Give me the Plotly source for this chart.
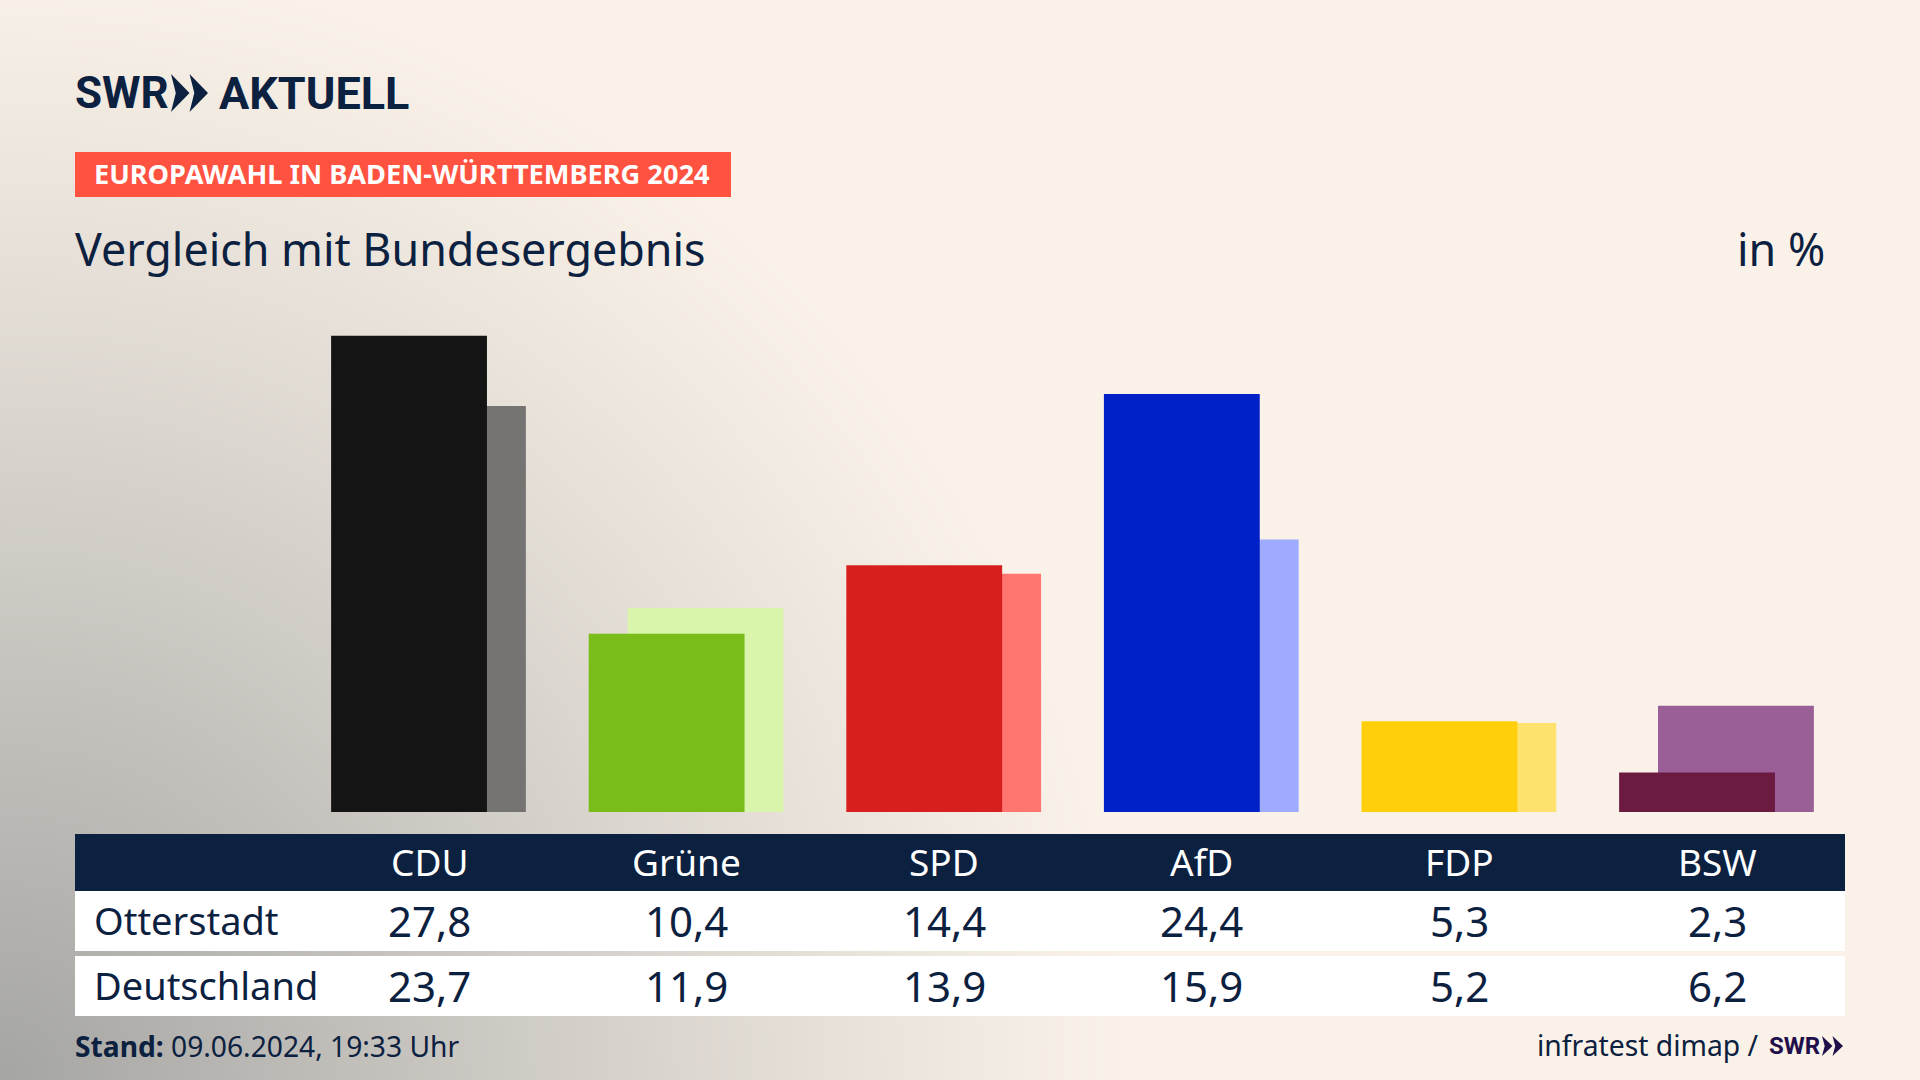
import base64, struct, zlib
import numpy as np
import plotly.graph_objects as go

parties = ["CDU", "Grüne", "SPD", "AfD", "FDP", "BSW"]
otterstadt = [27.8, 10.4, 14.4, 24.4, 5.3, 2.3]
deutschland = [23.7, 11.9, 13.9, 15.9, 5.2, 6.2]
row_names = ["Otterstadt", "Deutschland"]
front_colors = ["#141414", "#7ABD1B", "#D81F1F", "#0020C8", "#FFCF0B", "#6B1A40"]
back_colors = ["#757473", "#D8F5AB", "#FF7570", "#9EABFF", "#FFE26E", "#9B5F97"]

W, H = 1920, 1080
NAVY = "#0C2040"
FONT = "Noto Sans"
LOGO = "Roboto"

def px(x): return x / W
def py(y): return 1 - y / H

def png_uri(rgb):
    h, w, _ = rgb.shape
    raw = b"".join(b"\x00" + rgb[i].tobytes() for i in range(h))
    def chunk(t, d):
        return struct.pack(">I", len(d)) + t + d + struct.pack(">I", zlib.crc32(t + d) & 0xffffffff)
    data = (b"\x89PNG\r\n\x1a\n" + chunk(b"IHDR", struct.pack(">IIBBBBB", w, h, 8, 2, 0, 0, 0))
            + chunk(b"IDAT", zlib.compress(raw, 9)) + chunk(b"IEND", b""))
    return "data:image/png;base64," + base64.b64encode(data).decode()

# soft radial background from the bottom-left corner
yy, xx = np.mgrid[0:H // 2, 0:W // 2]
d = np.hypot(xx * 2 / 1130, (H - yy * 2) / 1130).clip(0, 1)
t = ((1 - d) ** 1.1)[..., None]
base = np.array([250, 242, 232], float)
dark = np.array([165, 165, 163], float)
bg = np.round(base * (1 - t) + dark * t).astype(np.uint8)

def rect(x0, y0, x1, y1, color):
    return dict(type="rect", xref="paper", yref="paper", x0=px(x0), x1=px(x1), y0=py(y1), y1=py(y0),
                fillcolor=color, line_width=0, layer="below")

def chevrons(x, top, bottom, width, color):
    mid = (top + bottom) / 2
    out = []
    for k in range(2):
        x0 = x + k * width * 0.5
        pts = [(x0, top), (x0 + width * 0.5, mid), (x0, bottom), (x0 + width * 0.13, mid)]
        path = "M " + " L ".join(f"{px(a):.5f},{py(b):.5f}" for a, b in pts) + " Z"
        out.append(dict(type="path", xref="paper", yref="paper", path=path, fillcolor=color, line_width=0))
    return out

def text(x, y, s, size, color=NAVY, anchor="left", xref="paper", family=FONT):
    return dict(xref=xref, yref="paper", x=px(x) if xref == "paper" else x, y=py(y), text=s, showarrow=False,
                xanchor=anchor, yanchor="middle", align=anchor,
                font=dict(family=family, size=size, color=color))

fig = go.Figure()
fig.add_bar(x=parties, y=deutschland, marker=dict(color=back_colors, line_width=0),
            width=0.605, offset=-0.229, name="Deutschland", showlegend=False)
fig.add_bar(x=parties, y=otterstadt, marker=dict(color=front_colors, line_width=0),
            width=0.605, offset=-0.38, name="Otterstadt", showlegend=False)

shapes = [rect(75, 152, 731, 197, "#FF5240"),
          rect(75, 834, 1845, 891, NAVY),
          rect(75, 891, 1845, 951, "#FFFFFF"),
          rect(75, 956, 1845, 1016, "#FFFFFF")]
shapes += chevrons(171, 74, 112, 37, NAVY)
shapes += chevrons(1822, 1036, 1056, 21, "#1F0F4A")

annos = [
    text(73, 93, "<b>SWR</b>", 44, family=LOGO),
    text(217, 93, "<b>AKTUELL</b>", 45, family=LOGO),
    text(92, 174, "<b>EUROPAWAHL IN BADEN-WÜRTTEMBERG 2024</b>", 27.2, "#FFFFFF"),
    text(73, 248, "Vergleich mit Bundesergebnis", 44.8),
    text(1827, 248, "in %", 44.8, anchor="right"),
    text(92, 920, row_names[0], 38),
    text(92, 985, row_names[1], 38),
    text(73, 1046, "<b>Stand:</b> 09.06.2024, 19:33 Uhr", 28.2),
    text(1761, 1045, "infratest dimap /", 28.3, anchor="right"),
    text(1767, 1046, "<b>SWR</b>", 24, "#1F0F4A", family=LOGO),
]
fmt = lambda v: f"{v:.1f}".replace(".", ",")
for p, a, b in zip(parties, otterstadt, deutschland):
    annos.append(text(p, 861, p, 37, "#FFFFFF", "center", "x"))
    annos.append(text(p, 920, fmt(a), 42, NAVY, "center", "x"))
    annos.append(text(p, 985, fmt(b), 42, NAVY, "center", "x"))

fig.update_layout(
    width=W, height=H, margin=dict(l=0, r=0, t=0, b=0), barmode="overlay",
    paper_bgcolor="#FAF2E8", plot_bgcolor="rgba(0,0,0,0)", showlegend=False,
    xaxis=dict(domain=[px(300.2), px(1845.8)], range=[-0.5, 5.5], type="category",
               categoryorder="array", categoryarray=parties, visible=False),
    yaxis=dict(domain=[py(812), py(298)], range=[0, 30], visible=False),
    shapes=shapes, annotations=annos,
    images=[dict(source=png_uri(bg), xref="paper", yref="paper", x=0, y=1, sizex=1, sizey=1,
                 sizing="stretch", xanchor="left", yanchor="top", layer="below")],
)
fig.write_html("out.html", config={"displayModeBar": False},
               post_script="document.body.style.margin='0';document.body.style.overflow='hidden';")
